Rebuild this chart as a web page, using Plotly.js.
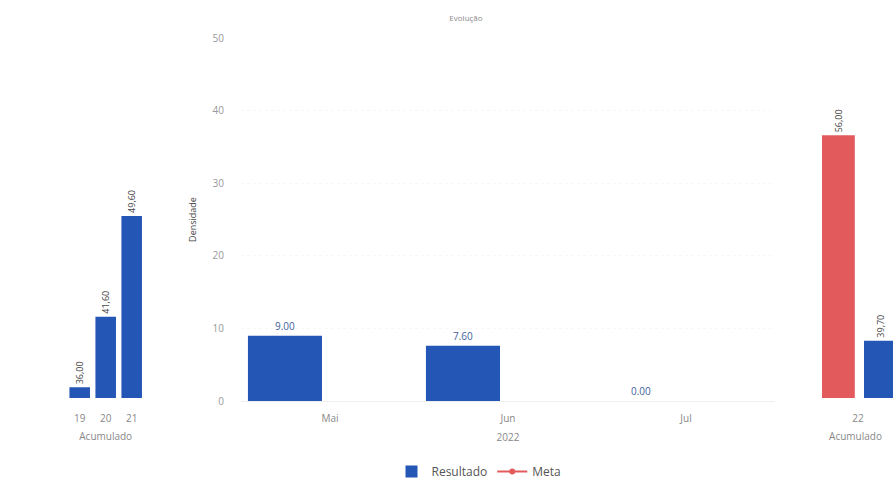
<!DOCTYPE html>
<html>
<head>
<meta charset="utf-8">
<script src="https://cdn.plot.ly/plotly-3.0.1.min.js"></script>
<style>html,body{margin:0;padding:0;background:#fff;}#chart{width:893px;height:479px;}</style>
</head>
<body>
<div id="chart"></div>
<script>
// ---- data ----
var meses = ['Mai', 'Jun', 'Jul'];
var resultadoMensal = [9.00, 7.60, 0.00];
var metaMensal = [null, null, null];
var anosAcumulado = ['19', '20', '21'];
var resultadoAcumulado = [36.00, 41.60, 49.60];
var anoAtual = ['22'];
var metaAtual = [56.00];
var resultadoAtual = [39.70];
var ticksDensidade = [0, 10, 20, 30, 40, 50];

var blue = '#2456b6';
var red = '#e35a5c';
var font = 'Open Sans, Roboto, sans-serif';

function ptFmt(v) { return v.toFixed(2); }
function brFmt(v) { return v.toFixed(2).replace('.', ','); }

var traces = [
  {
    type: 'bar', name: 'Resultado', x: meses, y: resultadoMensal,
    xaxis: 'x', yaxis: 'y',
    marker: {color: blue},
    width: 0.416, offset: -0.461,
    text: resultadoMensal.map(ptFmt), textposition: 'outside',
    textfont: {size: 10, color: '#3f5f9c', family: font},
    cliponaxis: false, constraintext: 'none', hoverinfo: 'none'
  },
  {
    type: 'scatter', mode: 'lines+markers', name: 'Meta', x: meses, y: metaMensal,
    xaxis: 'x', yaxis: 'y',
    line: {color: red, width: 2}, marker: {color: red, size: 6}, hoverinfo: 'none'
  },
  {
    type: 'bar', name: 'Resultado', x: anosAcumulado, y: resultadoAcumulado,
    xaxis: 'x2', yaxis: 'y2', showlegend: false,
    marker: {color: blue},
    text: resultadoAcumulado.map(brFmt), textposition: 'outside', textangle: -90,
    textfont: {size: 9, color: '#444', family: font},
    cliponaxis: false, constraintext: 'none', hoverinfo: 'none'
  },
  {
    type: 'bar', name: 'Meta', x: anoAtual, y: metaAtual,
    xaxis: 'x3', yaxis: 'y3', showlegend: false,
    marker: {color: red},
    width: 0.41, offset: -0.45,
    text: metaAtual.map(brFmt), textposition: 'outside', textangle: -90,
    textfont: {size: 9, color: '#444', family: font},
    cliponaxis: false, constraintext: 'none', hoverinfo: 'none'
  },
  {
    type: 'bar', name: 'Resultado', x: anoAtual, y: resultadoAtual,
    xaxis: 'x3', yaxis: 'y3', showlegend: false,
    marker: {color: blue},
    width: 0.41, offset: 0.075,
    text: resultadoAtual.map(brFmt), textposition: 'outside', textangle: -90,
    textfont: {size: 9, color: '#444', family: font},
    cliponaxis: true, constraintext: 'none', hoverinfo: 'none'
  }
];

var W = 893, H = 479;
function px(x) { return x / W; }
function py(y) { return 1 - y / H; }

var mainTicks = {ticks: 'outside', ticklen: 8, tickcolor: 'rgba(0,0,0,0)'};
var sideTicks = {ticks: 'outside', ticklen: 11, tickcolor: 'rgba(0,0,0,0)'};

var layout = {
  width: W, height: H,
  margin: {l: 0, r: 0, t: 0, b: 0, autoexpand: false},
  paper_bgcolor: '#fff', plot_bgcolor: '#fff',
  font: {family: font, color: '#888', size: 10},
  bargap: 0.21,
  showlegend: true,
  title: {text: 'Evolução', x: px(466), xanchor: 'center', y: py(18), yanchor: 'middle',
          font: {size: 8, color: '#8a8a8a', family: font}},
  legend: {orientation: 'h', x: px(479), xanchor: 'center', y: py(471.5), yanchor: 'middle',
           font: {size: 12, color: '#555', family: font}},
  xaxis: Object.assign({
    domain: [px(241), px(775)], anchor: 'y', type: 'category',
    range: [-0.5, 2.5], showgrid: false, zeroline: false, showline: false,
    tickfont: {size: 10, color: '#888'},
    title: {text: '2022', font: {size: 10, color: '#888'}, standoff: 9},
    automargin: false
  }, mainTicks),
  yaxis: {
    domain: [py(401), py(38)], anchor: 'x', range: [0, 50],
    tickvals: ticksDensidade, ticktext: ticksDensidade.map(String),
    showgrid: true, gridcolor: '#f7f7f7', gridwidth: 1, griddash: 'dot',
    zeroline: true, zerolinecolor: '#efefef', showline: false,
    ticks: 'outside', ticklen: 14, tickcolor: 'rgba(0,0,0,0)',
    tickfont: {size: 10, color: '#999'},
    title: {text: 'Densidade', font: {size: 9, color: '#444'}, standoff: 14},
    automargin: false
  },
  xaxis2: Object.assign({
    domain: [px(66.7), px(144.7)], anchor: 'y2', type: 'category',
    range: [-0.5, 2.5], showgrid: false, zeroline: false, showline: false,
    tickfont: {size: 10, color: '#888'},
    title: {text: 'Acumulado', font: {size: 10, color: '#888'}, standoff: 8},
    automargin: false
  }, sideTicks),
  yaxis2: {
    domain: [py(398), py(38)], anchor: 'x2', range: [35.15, 63.72],
    visible: false, showgrid: false, zeroline: false
  },
  xaxis3: Object.assign({
    domain: [px(818), 1], anchor: 'y3', type: 'category',
    range: [-0.5, 0.4375], showgrid: false, zeroline: false, showline: false,
    tickfont: {size: 10, color: '#888'},
    title: {text: 'Acumulado', font: {size: 10, color: '#888'}, standoff: 8},
    automargin: false
  }, sideTicks),
  yaxis3: {
    domain: [py(398), py(38)], anchor: 'x3', range: [35.15, 63.72],
    visible: false, showgrid: false, zeroline: false
  }
};

Plotly.newPlot('chart', traces, layout, {displayModeBar: false, staticPlot: true});
</script>
</body>
</html>
